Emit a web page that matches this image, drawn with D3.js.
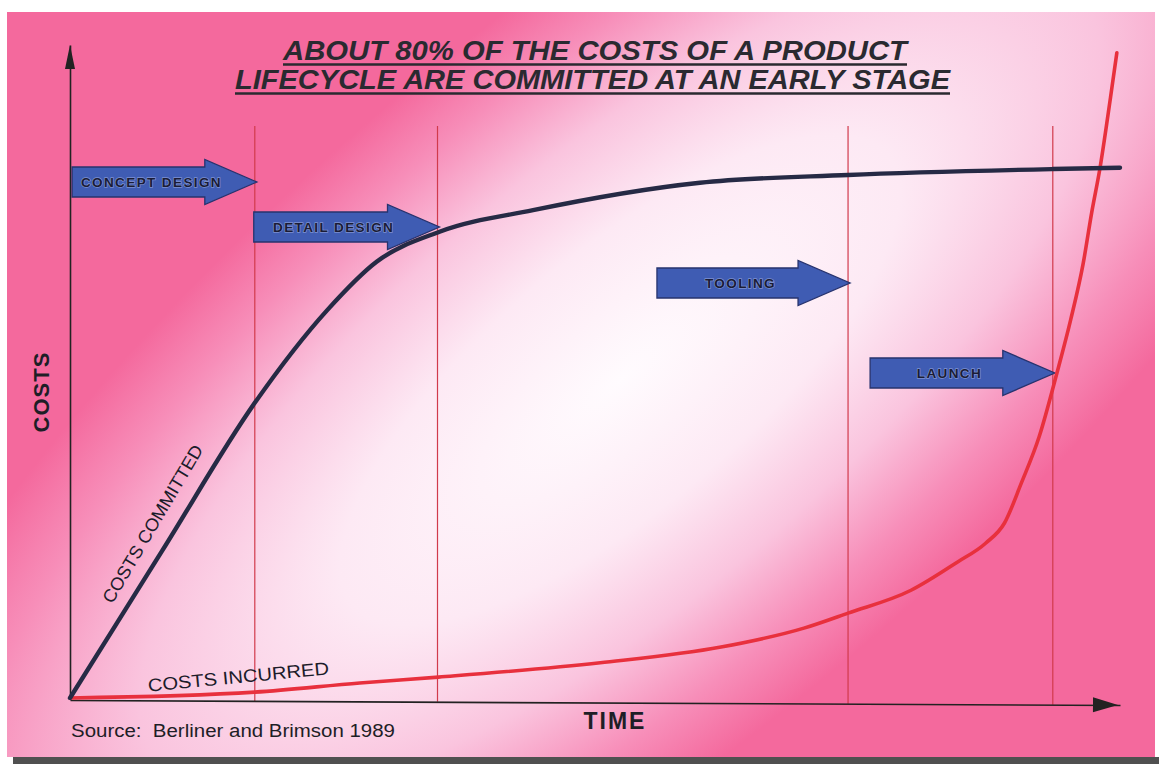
<!DOCTYPE html>
<html>
<head>
<meta charset="utf-8">
<script src="https://cdn.jsdelivr.net/npm/d3@7"></script>
<style>
  body { margin: 0; background: #ffffff; }
  svg { display: block; font-family: "Liberation Sans", Arial, sans-serif; }
</style>
</head>
<body>
<div id="chart"></div>
<script>
// chart size
const width = 1159;
const height = 764;

// title lines
const titleLines = ["ABOUT 80% OF THE COSTS OF A PRODUCT", "LIFECYCLE ARE COMMITTED AT AN EARLY STAGE"];

// phases of the product lifecycle (time runs 0..100)
const phases = ["CONCEPT DESIGN", "DETAIL DESIGN", "TOOLING", "LAUNCH"];
const phaseStart = [0.2, 17.5, 55.9, 76.2];
const phaseEnd = [17.6, 35.0, 74.1, 93.6];

// costs committed curve (cost runs 0..100)
const committedTime = [0, 8.8, 17.6, 24.5, 29.2, 35.2, 44.1, 60.0, 74.1, 93.6, 100];
const committedCost = [0, 22.6, 45.2, 59.4, 66.8, 71.4, 74.7, 78.9, 80.1, 81.0, 81.2];

// costs incurred curve
const incurredTime = [0, 17.6, 27.6, 35.1, 50.5, 62.0, 69.9, 74.1, 80.1, 84.5, 87.2, 89.0, 90.6, 92.3, 94.0, 95.3, 96.5, 97.3, 98.1, 99.1, 99.7];
const incurredCost = [0, 0.9, 2.3, 3.2, 5.4, 7.8, 10.7, 13.0, 16.5, 20.8, 23.7, 26.8, 32.9, 40.0, 49.8, 57.9, 66.6, 74.3, 81.2, 92.0, 98.8];

const margin = {left: 70, right: 39, top: 45, bottom: 66};

const svg = d3.select("#chart")
  .append("svg")
  .attr("width", width)
  .attr("height", height);

const defs = svg.append("defs");

// pink background with a diagonal white glow
const glow = defs.append("radialGradient")
  .attr("id", "glow")
  .attr("gradientUnits", "userSpaceOnUse")
  .attr("cx", 0).attr("cy", 0).attr("r", 1)
  .attr("gradientTransform", "translate(620,380) rotate(-40) scale(1000,360)");
[[0, "#fffbfe"], [0.35, "#fde9f4"], [0.6, "#fac4de"], [0.82, "#f78eb9"], [1, "#f4699d"]]
  .forEach(s => glow.append("stop").attr("offset", s[0]).attr("stop-color", s[1]));

svg.append("rect")
  .attr("x", 7).attr("y", 12)
  .attr("width", 1148).attr("height", 745)
  .attr("fill", "url(#glow)");

svg.append("rect")
  .attr("x", 13).attr("y", 757)
  .attr("width", 1146).attr("height", 7)
  .attr("fill", "#505050");

// scales
const x = d3.scaleLinear()
  .domain([0, 100])
  .range([margin.left, width - margin.right]);

const y = d3.scaleLinear()
  .domain([0, 100])
  .range([height - margin.bottom, margin.top]);

// the time axis drops a few pixels towards the right, as in the scan
const tilt = Math.atan2(5, x(100) - x(0)) * 180 / Math.PI;

// phase boundaries
svg.selectAll(".phase-line")
  .data(phaseEnd)
  .enter()
  .append("line")
    .attr("class", "phase-line")
    .attr("x1", d => x(d)).attr("x2", d => x(d))
    .attr("y1", 126).attr("y2", d => y(0) + 2 + (x(d) - x(0)) * 5 / (x(100) - x(0)))
    .attr("stroke", "#d13a4c")
    .attr("stroke-width", 1.2);

// axes without ticks, just the arrows
const xAxis = svg.append("g")
  .attr("transform", `translate(${x(0)},${y(0) + 2}) rotate(${tilt}) translate(${-x(0)},0)`)
  .call(d3.axisBottom(x).tickValues([]).tickSizeOuter(0));
const yAxis = svg.append("g")
  .attr("transform", `translate(${x(0)},0)`)
  .call(d3.axisLeft(y).tickValues([]).tickSizeOuter(0));
[xAxis, yAxis].forEach(a => a.select(".domain").attr("stroke", "#222").attr("stroke-width", 1.6));

xAxis.append("path")
  .attr("d", `M${x(100) - 2},0 L${x(100) - 27},-7.5 L${x(100) - 27},7.5 Z`)
  .attr("fill", "#222");
svg.append("path")
  .attr("d", `M${x(0)},${y(100)} L${x(0) - 5},${y(100) + 24} L${x(0) + 5},${y(100) + 24} Z`)
  .attr("fill", "#222");

// phase arrows
const arrowRowY = [182, 227, 283, 373];
const arrowPath = function(x0, x1, cy) {
  const hx = x1 - 52;
  return `M${x0},${cy - 15} L${hx},${cy - 15} L${hx},${cy - 22.5} L${x1},${cy} ` +
         `L${hx},${cy + 22.5} L${hx},${cy + 15} L${x0},${cy + 15} Z`;
};

const arrows = svg.selectAll(".phase-arrow")
  .data(phases)
  .enter()
  .append("g")
    .attr("class", "phase-arrow");

arrows.append("path")
  .attr("d", (d, i) => arrowPath(x(phaseStart[i]), x(phaseEnd[i]) + 2, arrowRowY[i]))
  .attr("fill", "#3f5cb3")
  .attr("stroke", "#27336e")
  .attr("stroke-width", 1.3);

arrows.append("text")
  .attr("x", (d, i) => (x(phaseStart[i]) + x(phaseEnd[i])) / 2 - 12)
  .attr("y", (d, i) => arrowRowY[i] + 5)
  .attr("text-anchor", "middle")
  .attr("font-size", "13.5px")
  .attr("font-weight", "bold")
  .attr("letter-spacing", "1.4px")
  .attr("fill", "#1a1c36")
  .attr("stroke", "rgba(190,200,240,0.5)")
  .attr("stroke-width", 1.4)
  .attr("paint-order", "stroke")
  .text(d => d);

// curves
const committed = committedTime.map((t, i) => ({t: t, c: committedCost[i]}));
const incurred = incurredTime.map((t, i) => ({t: t, c: incurredCost[i]}));

const line = d3.line()
  .x(d => x(d.t))
  .y(d => y(d.c))
  .curve(d3.curveMonotoneX);

svg.append("path")
  .datum(incurred)
  .attr("d", line)
  .attr("fill", "none")
  .attr("stroke", "#e8303d")
  .attr("stroke-width", 3.6)
  .attr("stroke-linecap", "round");

svg.append("path")
  .datum(committed)
  .attr("d", line)
  .attr("fill", "none")
  .attr("stroke", "#262a45")
  .attr("stroke-width", 4.4)
  .attr("stroke-linecap", "round");

// curve labels
svg.append("text")
  .attr("transform", "translate(158,527) rotate(-59.5)")
  .attr("text-anchor", "middle")
  .attr("font-size", "18px")
  .attr("fill", "#1c1c2a")
  .attr("textLength", 180)
  .attr("lengthAdjust", "spacingAndGlyphs")
  .text("COSTS COMMITTED");

svg.append("text")
  .attr("transform", "translate(239,683) rotate(-5.5)")
  .attr("text-anchor", "middle")
  .attr("font-size", "18px")
  .attr("fill", "#1c1c2a")
  .attr("textLength", 182)
  .attr("lengthAdjust", "spacingAndGlyphs")
  .text("COSTS INCURRED");

// axis titles
svg.append("text")
  .attr("transform", "translate(49,392) rotate(-90)")
  .attr("text-anchor", "middle")
  .attr("font-size", "22px")
  .attr("font-weight", "bold")
  .attr("letter-spacing", "1px")
  .attr("fill", "#1e1e26")
  .text("COSTS");

svg.append("text")
  .attr("x", 615).attr("y", 729)
  .attr("text-anchor", "middle")
  .attr("font-size", "23px")
  .attr("font-weight", "bold")
  .attr("letter-spacing", "2px")
  .attr("fill", "#1e1e26")
  .text("TIME");

svg.append("text")
  .attr("x", 71).attr("y", 737)
  .attr("font-size", "18px")
  .attr("fill", "#1e1e26")
  .attr("textLength", 324)
  .attr("lengthAdjust", "spacingAndGlyphs")
  .attr("xml:space", "preserve")
  .text("Source:  Berliner and Brimson 1989");

// title, underlined
const titleX = [595, 592.5];
const titleY = [60, 89];
const titleW = [624, 715];
titleLines.forEach((t, i) => {
  svg.append("text")
    .attr("x", titleX[i]).attr("y", titleY[i])
    .attr("text-anchor", "middle")
    .attr("font-size", "27px")
    .attr("font-weight", "bold")
    .attr("font-style", "italic")
    .attr("fill", "#2a2a30")
    .attr("textLength", titleW[i])
    .attr("lengthAdjust", "spacingAndGlyphs")
    .text(t);
  svg.append("line")
    .attr("x1", titleX[i] - titleW[i] / 2).attr("x2", titleX[i] + titleW[i] / 2)
    .attr("y1", titleY[i] + 4.5).attr("y2", titleY[i] + 4.5)
    .attr("stroke", "#2a2a30")
    .attr("stroke-width", 2.4);
});
</script>
</body>
</html>
